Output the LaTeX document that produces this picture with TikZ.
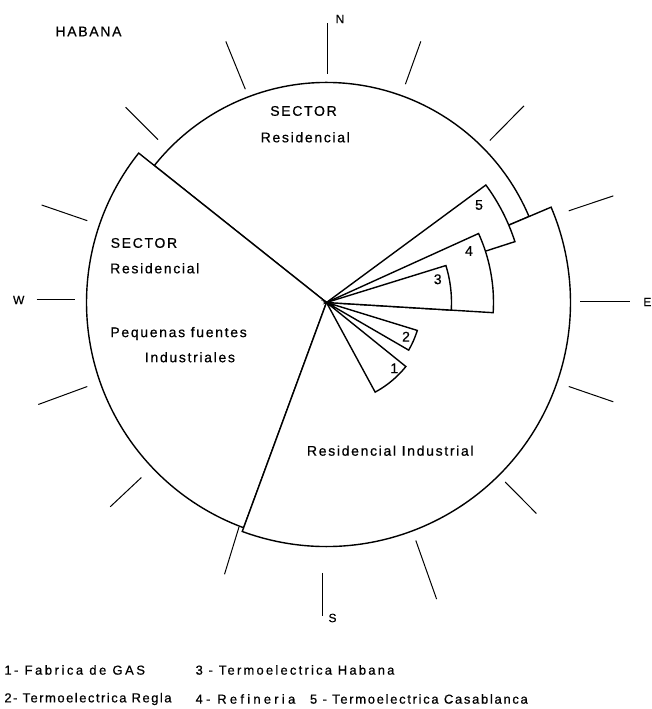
\documentclass[tikz,border=0pt]{standalone}
\usepackage{fontspec}
\setmainfont{Liberation Sans}
\newfontfamily\labfont[LetterSpace=12,FakeBold=0.6]{Liberation Sans}
\newfontfamily\numfont[FakeBold=0.6]{Liberation Sans}
\newcommand{\legfnt}[1]{\fontspec[LetterSpace=#1,FakeBold=0.6]{Liberation Sans}\fontsize{13}{15}\selectfont}
\begin{document}
\begin{tikzpicture}[x=1pt,y=1pt,
  sec/.style={draw=black,fill=white,line width=1.4pt,line join=miter},
  tickline/.style={line width=1pt},
  lab/.style={font=\labfont\fontsize{14}{16}\selectfont, inner sep=0pt},
  cmp/.style={font=\labfont\fontsize{12}{14}\selectfont, inner sep=0pt},
  num/.style={font=\numfont\fontsize{14}{16}\selectfont, inner sep=0pt},
  leg/.style={inner sep=0pt, anchor=west}]
\useasboundingbox (0,0) rectangle (652,709);
\coordinate (C) at (326.5,406.5);
% main sectors
\draw[sec] (C) -- +(23:220) arc[start angle=23,end angle=141.5,radius=220] -- cycle;
\draw[sec] (C) -- +(141.5:240) arc[start angle=141.5,end angle=249.8,radius=240] -- cycle;
\draw[sec] (C) -- +(-110.2:244) arc[start angle=-110.2,end angle=23,radius=244] -- cycle;
% source sectors
\draw[sec] (C) -- +(17.9:198) arc[start angle=17.9,end angle=36.4,radius=198] -- cycle;
\draw[sec] (C) -- +(-3.5:167) arc[start angle=-3.5,end angle=24.4,radius=167] -- cycle;
\draw[sec] (C) -- +(-3.5:125) arc[start angle=-3.5,end angle=17.2,radius=125] -- cycle;
\draw[sec] (C) -- +(-30.1:95) arc[start angle=-30.1,end angle=-17.1,radius=95] -- cycle;
\draw[sec] (C) -- +(-61.5:102) arc[start angle=-61.5,end angle=-38.9,radius=102] -- cycle;
% compass ticks
\draw[tickline] (327.2,685.6) -- (327.2,634.7);
\draw[tickline] (420.8,667.6) -- (405.4,624.8);
\draw[tickline] (523.9,603.1) -- (489.8,568.5);
\draw[tickline] (613.3,513.1) -- (568.8,498.2);
\draw[tickline] (580,407.2) -- (630,407.2);
\draw[tickline] (568.8,322.5) -- (613.3,307.2);
\draw[tickline] (505.2,227) -- (536.4,195.5);
\draw[tickline] (415.8,168.5) -- (436.6,109.9);
\draw[tickline] (322.5,136) -- (322.5,92.5);
\draw[tickline] (239,182) -- (224.5,134.7);
\draw[tickline] (141.4,231.5) -- (110.2,202.2);
\draw[tickline] (87.3,322.5) -- (38.3,304.5);
\draw[tickline] (36.6,409.5) -- (74.8,409.5);
\draw[tickline] (87.3,488.3) -- (41.6,504);
\draw[tickline] (158,569.4) -- (125.6,601.8);
\draw[tickline] (245.3,619.8) -- (225.8,667.6);
% compass labels
\node[lab] (habana) at (88.5,677.5) {HABANA};
\node[cmp] (north) at (340,690) {N};
\node[cmp,anchor=east] (east) at (651.5,407) {E};
\node[cmp] (south) at (332.5,91) {S};
\node[cmp] (west) at (18.7,409) {W};
% sector labels
\node[lab] (secN) at (303.5,598) {SECTOR};
\node[lab] (resN) at (305.3,571.7) {Residencial};
\node[lab,anchor=west] (secW) at (110.5,466) {SECTOR};
\node[lab,anchor=west] (resW) at (110,440.7) {Residencial};
\node[lab,anchor=west] (peq) at (110.2,375.5) {Pequenas fuentes};
\node[lab,anchor=west] (ind) at (144.7,351.8) {Industriales};
\node[lab] (resI) at (390.3,258.3) {Residencial Industrial};
% source numbers
\node[num] (n5) at (479,504) {5};
\node[num] (n4) at (469,458) {4};
\node[num] (n3) at (437.7,429.7) {3};
\node[num] (n2) at (406,372.3) {2};
\node[num] (n1) at (394.3,340.7) {1};
% legend
\node[leg,font=\legfnt{19.5}] (l1) at (4.2,39) {1- Fabrica de GAS};
\node[leg,font=\legfnt{17}] (l3) at (195.4,39) {3 - Termoelectrica Habana};
\node[leg,font=\legfnt{11.5}] (l2) at (4.2,10) {2- Termoelectrica Regla};
\node[leg,font=\legfnt{25}] (l4) at (195.4,10) {4- Refineria};
\node[leg,font=\legfnt{13}] (l5) at (309.8,10) {5 - Termoelectrica Casablanca};
\end{tikzpicture}
\end{document}
